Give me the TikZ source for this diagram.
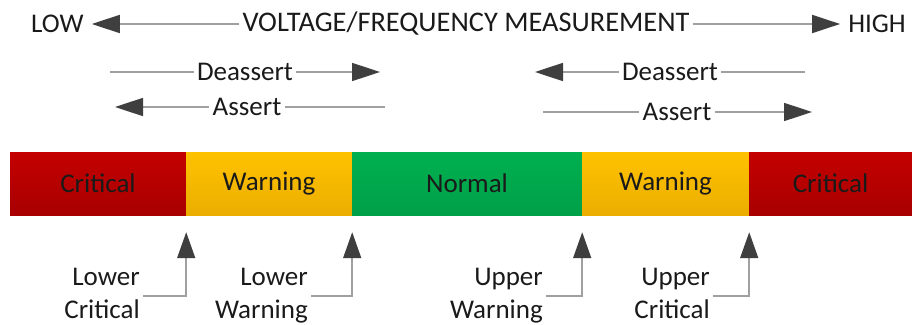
\documentclass[tikz,border=0pt]{standalone}
\usepackage{fontspec}
\setmainfont{Carlito}
\usetikzlibrary{arrows.meta}
\definecolor{txt}{HTML}{1A1A1A}
\definecolor{lgray}{HTML}{A0A0A0}
\definecolor{dgray}{HTML}{3F3F3F}
\definecolor{redT}{HTML}{C40000}
\definecolor{redB}{HTML}{A80000}
\definecolor{yelT}{HTML}{FFC200}
\definecolor{yelB}{HTML}{EBAE00}
\definecolor{grnT}{HTML}{00B050}
\definecolor{grnB}{HTML}{00A048}
\tikzset{
  lbl/.style={text=txt, inner sep=3pt, font=\fontsize{27}{33}\selectfont},
  conn/.style={draw=lgray, line width=1.6pt},
  tip/.style={-{Triangle[length=28pt,width=18pt,color=dgray]}},
  vtip/.style={-{Triangle[length=26pt,width=18pt,color=dgray]}},
  seg/.style={draw=none, minimum height=63pt, inner sep=0pt, text=txt,
    font=\fontsize{27}{33}\selectfont},
  redseg/.style={seg, top color=redT, bottom color=redB},
  yelseg/.style={seg, top color=yelT, bottom color=yelB},
  grnseg/.style={seg, top color=grnT, bottom color=grnB}
}
\begin{document}
\begin{tikzpicture}[x=1pt,y=-1pt]
\useasboundingbox (0,0) rectangle (912,324);
% top scale
\node[lbl, anchor=west] (low) at (28,24) {LOW};
\node[lbl, font=\fontsize{28.4}{33}\selectfont] (vf) at (466,24) {VOLTAGE/FREQUENCY MEASUREMENT};
\node[lbl, anchor=east] (high) at (909,24) {HIGH};
\draw[conn, tip, shorten >=5pt] (vf.west) -- (low.east);
\draw[conn, tip, shorten >=5pt] (vf.east) -- (high.west);
% left deassert / assert
\coordinate (dl0) at (110,72);
\node[lbl] (dl) at (245,72) {Deassert};
\coordinate (dl1) at (380,72);
\draw[conn] (dl0) -- (dl.west);
\draw[conn, tip] (dl.east) -- (dl1);
\coordinate (al0) at (385,107);
\node[lbl] (al) at (247,107) {Assert};
\coordinate (al1) at (115,107);
\draw[conn] (al0) -- (al.east);
\draw[conn, tip] (al.west) -- (al1);
% right deassert / assert
\coordinate (dr0) at (805,72);
\node[lbl] (dr) at (670,72) {Deassert};
\coordinate (dr1) at (535,72);
\draw[conn] (dr0) -- (dr.east);
\draw[conn, tip] (dr.west) -- (dr1);
\coordinate (ar0) at (543,112);
\node[lbl] (ar) at (677,112) {Assert};
\coordinate (ar1) at (812,112);
\draw[conn] (ar0) -- (ar.west);
\draw[conn, tip] (ar.east) -- (ar1);
% bar
\node[redseg, minimum width=176pt] (c1) at (98,183.5) {Critical};
\node[yelseg, minimum width=166pt] (w1) at (269,183.5) {Warning};
\node[grnseg, minimum width=230pt] (nm) at (467,183.5) {Normal};
\node[yelseg, minimum width=167pt] (w2) at (665.5,183.5) {Warning};
\node[redseg, minimum width=163pt] (c2) at (830.5,183.5) {Critical};
% threshold labels
\node[lbl, align=right, anchor=east] (lc) at (143,296) {Lower\\Critical\vphantom{g}};
\node[lbl, align=right, anchor=east] (lw) at (311,296) {Lower\\Warning};
\node[lbl, align=right, anchor=east] (uw) at (546,296) {Upper\\Warning};
\node[lbl, align=right, anchor=east] (uc) at (713,296) {Upper\\Critical\vphantom{g}};
\draw[conn, vtip, shorten >=17pt] (lc.east) -| (c1.south east);
\draw[conn, vtip, shorten >=17pt] (lw.east) -| (w1.south east);
\draw[conn, vtip, shorten >=17pt] (uw.east) -| (nm.south east);
\draw[conn, vtip, shorten >=17pt] (uc.east) -| (w2.south east);
\end{tikzpicture}
\end{document}
